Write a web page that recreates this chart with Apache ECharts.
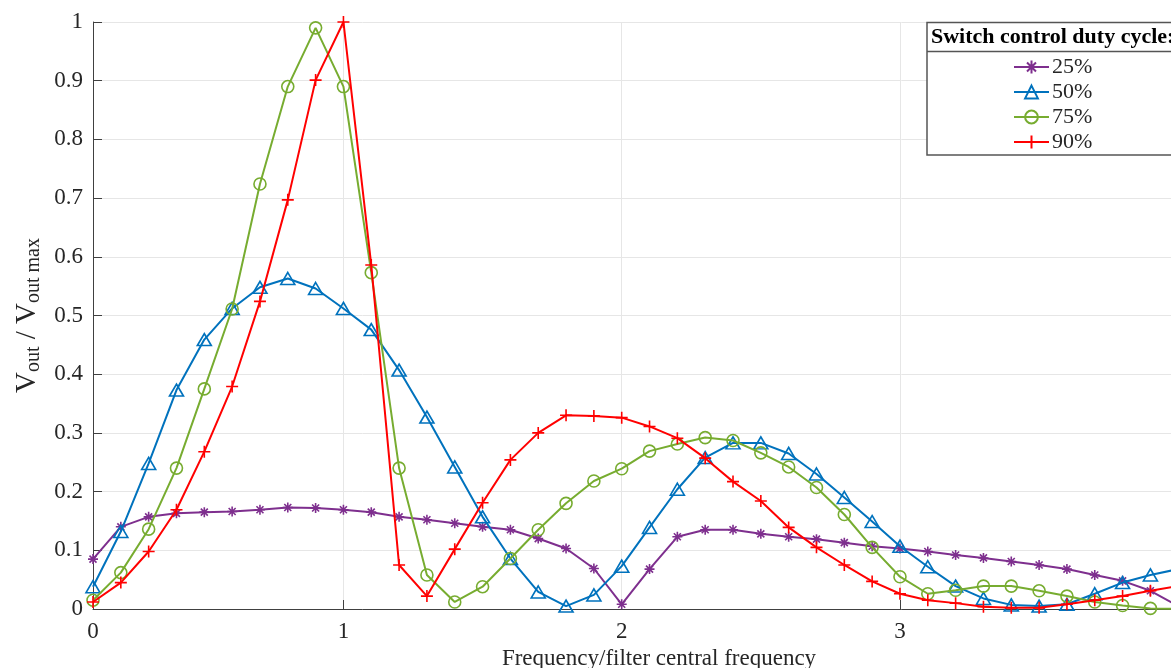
<!DOCTYPE html>
<html>
<head>
<meta charset="utf-8">
<script src="https://cdn.jsdelivr.net/npm/echarts@6/dist/echarts.min.js"></script>
<style>
html,body{margin:0;padding:0;background:#fff;}
#chart{width:1171px;height:668px;}
</style>
</head>
<body>
<div id="chart"></div>
<script>
// Frequency / filter central frequency (sample positions)
var freq = [0.1,0.2,0.3,0.4,0.5,0.6,0.7,0.8,0.9,1.0,1.1,1.2,1.3,1.4,1.5,1.6,1.7,1.8,1.9,2.0,
            2.1,2.2,2.3,2.4,2.5,2.6,2.7,2.8,2.9,3.0,3.1,3.2,3.3,3.4,3.5,3.6,3.7,3.8,3.9,4.0];
var xTickValues = [0.1, 1, 2, 3];
var xTickLabels = ['0', '1', '2', '3'];
var seriesNames = ['25%', '50%', '75%', '90%'];
var d25 = [0.085,0.140,0.157,0.163,0.165,0.166,0.169,0.173,0.172,0.169,0.165,0.157,0.152,0.146,0.140,0.135,0.120,0.103,0.069,0.008,
           0.068,0.123,0.135,0.135,0.128,0.123,0.119,0.113,0.107,0.103,0.098,0.092,0.087,0.081,0.075,0.068,0.058,0.048,0.031,0.005];
var d50 = [0.038,0.132,0.248,0.373,0.459,0.512,0.548,0.563,0.546,0.512,0.476,0.407,0.327,0.242,0.157,0.086,0.029,0.005,0.024,0.073,
           0.139,0.204,0.258,0.283,0.283,0.265,0.230,0.190,0.149,0.107,0.072,0.039,0.018,0.007,0.005,0.008,0.026,0.045,0.058,0.068];
var d75 = [0.015,0.062,0.136,0.240,0.375,0.511,0.724,0.890,0.990,0.890,0.573,0.240,0.058,0.012,0.038,0.086,0.135,0.180,0.218,0.239,
           0.269,0.281,0.292,0.287,0.266,0.242,0.207,0.161,0.105,0.055,0.026,0.032,0.039,0.039,0.031,0.022,0.012,0.006,0.001,0.000];
var d90 = [0.012,0.045,0.098,0.169,0.268,0.379,0.524,0.697,0.901,1.000,0.586,0.075,0.022,0.102,0.181,0.254,0.300,0.330,0.329,0.326,
           0.311,0.291,0.257,0.217,0.184,0.139,0.105,0.075,0.047,0.026,0.015,0.010,0.004,0.002,0.002,0.008,0.015,0.022,0.031,0.039];

var FONT = '"Liberation Serif", "Times New Roman", serif';
var TXT = '#262626';
var colors = ['#7E2F8E', '#0072BD', '#77AC30', '#FF0000'];
var symbols = [
  'path://M5 0L5 10M0 5L10 5M1.5 1.5L8.5 8.5M8.5 1.5L1.5 8.5',
  'triangle',
  'circle',
  'path://M5 0L5 10M0 5L10 5'
];
var symbolSizes = [[10,10],[14,12],[12,12],[12,12]];
var allData = [d25, d50, d75, d90];

function pairs(ys){ return freq.map(function(x,i){ return [x, ys[i]]; }); }

var series = allData.map(function(ys, i){
  return {
    name: seriesNames[i],
    type: 'line',
    data: pairs(ys),
    symbol: symbols[i],
    symbolSize: symbolSizes[i],
    showAllSymbol: true,
    clip: true,
    lineStyle: { color: colors[i], width: 2 },
    itemStyle: { color: 'none', borderColor: colors[i], borderWidth: 1.6 },
    emphasis: { disabled: true },
    z: 2 + i
  };
});

var chart = echarts.init(document.getElementById('chart'), null, {renderer: 'canvas'});
chart.setOption({
  animation: false,
  backgroundColor: '#fff',
  grid: { left: 93, right: 0, top: 22, bottom: 59, containLabel: false, outerBoundsMode: 'none' },
  xAxis: {
    type: 'value',
    min: 0.1,
    max: 3.974,
    name: 'Frequency/filter central frequency',
    nameLocation: 'middle',
    nameGap: 34,
    nameTextStyle: { fontFamily: FONT, fontSize: 23, color: TXT, padding: [0, 0, 0, 54] },
    axisLine: { show: true, onZero: false, lineStyle: { color: '#404040', width: 1 } },
    axisTick: { show: true, inside: true, length: 9, customValues: xTickValues, lineStyle: { color: '#404040' } },
    axisLabel: {
      customValues: xTickValues,
      margin: 11,
      fontFamily: FONT, fontSize: 23, color: TXT,
      formatter: function(v){
        for (var i = 0; i < xTickValues.length; i++) { if (Math.abs(v - xTickValues[i]) < 1e-6) return xTickLabels[i]; }
        return '';
      }
    },
    splitLine: { show: true, lineStyle: { color: '#e6e6e6', width: 1 } }
  },
  yAxis: {
    type: 'value',
    min: 0, max: 1, interval: 0.1,
    name: '{v|V}{s|out}{v| / V}{s|out max}',
    nameLocation: 'middle',
    nameRotate: 90,
    nameGap: 40,
    nameTextStyle: {
      color: TXT, fontFamily: FONT,
      rich: {
        v: { fontFamily: FONT, fontSize: 29, color: TXT, lineHeight: 30, verticalAlign: 'top' },
        s: { fontFamily: FONT, fontSize: 20, color: TXT, lineHeight: 20, verticalAlign: 'bottom', padding: [22, 0, 0, 0] }
      }
    },
    axisLine: { show: true, lineStyle: { color: '#404040', width: 1 } },
    axisTick: { show: true, inside: true, length: 9, lineStyle: { color: '#404040' } },
    axisLabel: { margin: 10, fontFamily: FONT, fontSize: 23, color: TXT },
    splitLine: { show: true, lineStyle: { color: '#e6e6e6', width: 1 } }
  },
  legend: {
    data: seriesNames,
    orient: 'vertical',
    left: 1013,
    top: 56,
    padding: 0,
    itemWidth: 35,
    itemHeight: 16,
    itemGap: 3,
    selectedMode: false,
    z: 10,
    textStyle: { fontFamily: FONT, fontSize: 22, color: TXT, lineHeight: 22, padding: [0,0,0,-2] }
  },
  graphic: { elements: [
    { type: 'rect', z: 8, shape: { x: 927, y: 22.5, width: 260, height: 132.5 },
      style: { fill: '#fff', stroke: '#555', lineWidth: 1.5 } },
    { type: 'line', z: 9, shape: { x1: 927, y1: 51.5, x2: 1171, y2: 51.5 },
      style: { stroke: '#555', lineWidth: 1.5 } },
    { type: 'text', z: 10, x: 931, y: 37,
      style: { text: 'Switch control duty cycle:', font: 'bold 22px "Liberation Serif", serif', fill: '#000', textVerticalAlign: 'middle', verticalAlign: 'middle' } }
  ]},
  series: series
});
</script>
</body>
</html>
